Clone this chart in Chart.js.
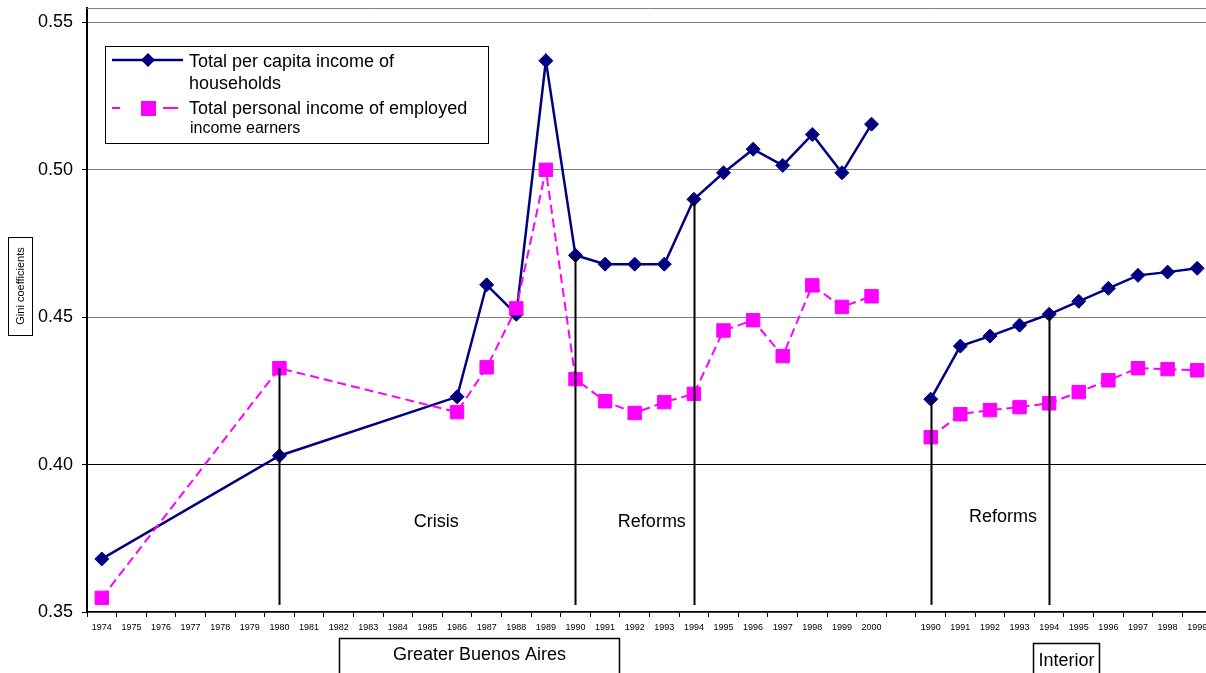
<!DOCTYPE html>
<html>
<head>
<meta charset="utf-8">
<script src="https://cdn.jsdelivr.net/npm/chart.js@4/dist/chart.umd.min.js"></script>
<style>
  html, body { margin: 0; padding: 0; overflow: hidden; background: #fff; }
  canvas { display: block; }
</style>
</head>
<body>
<canvas id="gini" width="1212" height="673" style="width:1212px;height:673px"></canvas>
<script>
// Survey years for Greater Buenos Aires and for the Interior
const gbaYears = ['1974','1975','1976','1977','1978','1979','1980','1981','1982','1983','1984',
  '1985','1986','1987','1988','1989','1990','1991','1992','1993','1994','1995','1996','1997',
  '1998','1999','2000'];
const interiorYears = ['1990','1991','1992','1993','1994','1995','1996','1997','1998','1999'];

// Gini coefficients, Greater Buenos Aires (null = no survey that year)
const gbaHousehold = [0.368, null, null, null, null, null, 0.403, null, null, null, null, null,
  0.423, 0.461, 0.451, 0.537, 0.471, 0.468, 0.468, 0.468, 0.490, 0.499, 0.507, 0.5015,
  0.512, 0.499, 0.5155];
const gbaPersonal = [0.3548, null, null, null, null, null, 0.4327, null, null, null, null, null,
  0.4178, 0.433, 0.453, 0.500, 0.429, 0.4215, 0.4175, 0.4212, 0.424, 0.4455, 0.449, 0.4368,
  0.4608, 0.4535, 0.4571];

// Gini coefficients, Interior
const interiorHousehold = [0.4222, 0.4402, 0.4436, 0.4473, 0.451, 0.4554, 0.4598, 0.4642, 0.4653, 0.4666];
const interiorPersonal  = [0.4093, 0.4171, 0.4185, 0.4195, 0.4208, 0.4246, 0.4286, 0.4327, 0.4324, 0.432];

const yTicks = [0.35, 0.40, 0.45, 0.50, 0.55];

// Category axis: GBA years, one empty slot, then Interior years
const labels = [...gbaYears, '', ...interiorYears];
const blankGba = gbaYears.map(() => null);
const blankInt = interiorYears.map(() => null);

const NAVY = '#000080';
const MAGENTA = '#FF00FF';
const FONT = "'Liberation Sans', Arial, sans-serif";

// thinner strokes where a segment bridges years without surveys
const bridged = ctx => ctx.p1DataIndex - ctx.p0DataIndex > 1;

const householdStyle = {
  borderColor: NAVY, backgroundColor: NAVY, borderWidth: 2.5,
  pointStyle: 'rectRot', pointRadius: 7, pointHoverRadius: 7,
  pointBackgroundColor: NAVY, pointBorderColor: NAVY, pointBorderWidth: 1,
  tension: 0, spanGaps: true,
  segment: { borderWidth: ctx => bridged(ctx) ? 2 : 2.5 }
};
const personalStyle = {
  borderColor: MAGENTA, backgroundColor: MAGENTA, borderWidth: 2, borderDash: [9, 5],
  pointStyle: 'rect', pointRadius: 9.5, pointHoverRadius: 9.5,
  pointBackgroundColor: MAGENTA, pointBorderColor: MAGENTA, pointBorderWidth: 1,
  tension: 0, spanGaps: true,
  segment: {
    borderWidth: ctx => bridged(ctx) ? 1.5 : 2,
    borderDash: ctx => bridged(ctx) ? [8, 4] : [9, 5]
  }
};

const datasets = [
  { label: 'Total personal income of employed income earners',
    data: [...gbaPersonal, null, ...blankInt], ...personalStyle },
  { label: 'Total personal income of employed income earners (Interior)',
    data: [...blankGba, null, ...interiorPersonal], ...personalStyle },
  { label: 'Total per capita income of households',
    data: [...gbaHousehold, null, ...blankInt], ...householdStyle },
  { label: 'Total per capita income of households (Interior)',
    data: [...blankGba, null, ...interiorHousehold], ...householdStyle }
];

// Extra drawing: plot frame, drop lines, period captions, region boxes, legend, axis title
const decorations = {
  id: 'decorations',
  afterDatasetsDraw(chart, args, opts) {
    const { ctx, chartArea, scales: { x, y } } = chart;
    ctx.save();

    // top frame line
    ctx.strokeStyle = '#808080';
    ctx.lineWidth = 1;
    ctx.beginPath();
    ctx.moveTo(chartArea.left, chartArea.top + 0.5);
    ctx.lineTo(chartArea.right, chartArea.top + 0.5);
    ctx.stroke();

    // drop lines marking period breaks
    ctx.strokeStyle = '#000';
    ctx.lineWidth = 2;
    opts.dropLines.forEach(i => {
      const vals = chart.data.datasets.map(d => d.data[i]).filter(v => v != null);
      const top = Math.max(...vals);
      const px = Math.round(x.getPixelForValue(i)) + 0.5;
      ctx.beginPath();
      ctx.moveTo(px, y.getPixelForValue(top));
      ctx.lineTo(px, y.getPixelForValue(opts.dropFloor));
      ctx.stroke();
    });

    // period captions
    ctx.fillStyle = '#000';
    ctx.font = '18px ' + FONT;
    ctx.textAlign = 'center';
    ctx.textBaseline = 'middle';
    opts.captions.forEach(c => {
      ctx.fillText(c.text, x.getPixelForValue(c.at), y.getPixelForValue(c.value));
    });

    // region boxes below the axis
    ctx.lineWidth = 1.5;
    opts.regions.forEach(r => {
      const l = Math.round(x.getPixelForValue(r.from)) + 0.5;
      const rr = Math.round(x.getPixelForValue(r.to)) + 0.5;
      const t = chartArea.bottom + r.offset + 0.5;
      ctx.beginPath();
      ctx.moveTo(l, chart.height + 2);
      ctx.lineTo(l, t);
      ctx.lineTo(rr, t);
      ctx.lineTo(rr, chart.height + 2);
      ctx.stroke();
      ctx.textBaseline = 'alphabetic';
      ctx.fillText(r.text, (l + rr) / 2, t + r.baseline);
    });

    // legend
    const lg = opts.legend;
    ctx.fillStyle = '#fff';
    ctx.fillRect(lg.left, lg.top, lg.width, lg.height);
    ctx.strokeStyle = '#000';
    ctx.lineWidth = 1;
    ctx.strokeRect(lg.left + 0.5, lg.top + 0.5, lg.width, lg.height);

    const hs = chart.data.datasets[2];
    const ps = chart.data.datasets[0];
    const sx = lg.left + 7, ex = lg.left + 78, mx = lg.left + 43;
    let ly = lg.top + 14;
    ctx.strokeStyle = hs.borderColor;
    ctx.lineWidth = 2.5;
    ctx.beginPath(); ctx.moveTo(sx, ly); ctx.lineTo(ex, ly); ctx.stroke();
    ctx.fillStyle = hs.backgroundColor;
    ctx.beginPath();
    ctx.moveTo(mx, ly - 7); ctx.lineTo(mx + 7, ly); ctx.lineTo(mx, ly + 7); ctx.lineTo(mx - 7, ly);
    ctx.closePath(); ctx.fill();

    let py = lg.top + 62;
    ctx.strokeStyle = ps.borderColor;
    ctx.lineWidth = 2;
    ctx.beginPath();
    ctx.moveTo(sx, py); ctx.lineTo(sx + 8, py);
    ctx.moveTo(mx + 15, py); ctx.lineTo(mx + 30, py);
    ctx.stroke();
    ctx.fillStyle = ps.backgroundColor;
    ctx.fillRect(mx - 7, py - 7, 15, 15);

    ctx.fillStyle = '#000';
    ctx.textAlign = 'left';
    ctx.textBaseline = 'alphabetic';
    const tx = lg.left + 84;
    ctx.font = '18px ' + FONT;
    ctx.fillText('Total per capita income of', tx, lg.top + 21);
    ctx.fillText('households', tx, lg.top + 43);
    ctx.fillText('Total personal income of employed', tx, lg.top + 68);
    ctx.font = '16px ' + FONT;
    ctx.fillText('income earners', tx + 1, lg.top + 87);

    // boxed, rotated axis title
    const at = opts.axisTitle;
    ctx.strokeStyle = '#000';
    ctx.lineWidth = 1;
    ctx.fillStyle = '#fff';
    ctx.fillRect(at.left, at.top, at.width, at.height);
    ctx.strokeRect(at.left + 0.5, at.top + 0.5, at.width, at.height);
    ctx.fillStyle = '#000';
    ctx.font = '11px ' + FONT;
    ctx.textAlign = 'center';
    ctx.textBaseline = 'middle';
    ctx.translate(at.left + at.width / 2 + 1, at.top + at.height / 2);
    ctx.rotate(-Math.PI / 2);
    ctx.fillText(at.text, 0, 0);

    ctx.restore();
  }
};

new Chart(document.getElementById('gini'), {
  type: 'line',
  data: { labels, datasets },
  plugins: [decorations],
  options: {
    responsive: false,
    animation: false,
    devicePixelRatio: 1,
    layout: { autoPadding: false, padding: { top: 8, left: 0, right: 0, bottom: 0 } },
    plugins: {
      legend: { display: false },
      tooltip: { enabled: false },
      decorations: {
        dropLines: [6, 16, 20, 28, 32],
        dropFloor: 0.3524,
        captions: [
          { text: 'Crisis', at: 11.3, value: 0.3805 },
          { text: 'Reforms', at: 18.58, value: 0.3805 },
          { text: 'Reforms', at: 30.44, value: 0.3822 }
        ],
        regions: [
          { text: 'Greater Buenos Aires', from: 8.0, to: 17.47, offset: 26, baseline: 21 },
          { text: 'Interior', from: 31.47, to: 33.68, offset: 31, baseline: 22 }
        ],
        legend: { left: 105, top: 46, width: 383, height: 97 },
        axisTitle: { text: 'Gini coefficients', left: 8, top: 237, width: 24, height: 98 }
      }
    },
    scales: {
      x: {
        type: 'category',
        offset: true,
        grid: {
          display: true, drawOnChartArea: false, drawTicks: true,
          tickLength: 5, color: '#000', offset: true, lineWidth: 1
        },
        border: { display: true, color: '#000', width: 1.5 },
        ticks: {
          autoSkip: false, maxRotation: 0, minRotation: 0, padding: 5,
          color: '#000', font: { family: FONT, size: 9 }
        },
        afterFit(scale) {
          scale.height = 61;
          scale.paddingLeft = 0; scale.paddingRight = 0;
        }
      },
      y: {
        min: 0.35,
        max: 0.5549,
        afterBuildTicks(scale) {
          scale.ticks = yTicks.map(v => ({ value: v }));
        },
        grid: {
          color: ctx => (ctx.tick && Math.abs(ctx.tick.value - 0.40) < 1e-6) ? '#000' : '#808080',
          tickColor: '#000', tickLength: 5, lineWidth: 1
        },
        border: { display: true, color: '#000', width: 2 },
        ticks: {
          padding: 9, color: '#000',
          font: { family: FONT, size: 18 },
          callback: v => Number(v).toFixed(2)
        },
        afterFit(scale) {
          scale.width = 87;
          scale.paddingTop = 0; scale.paddingBottom = 0;
        }
      }
    }
  }
});
</script>
</body>
</html>
